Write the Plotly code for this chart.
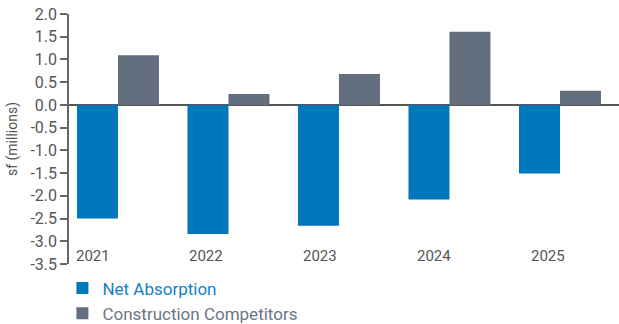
import plotly.graph_objects as go

# Data (millions of square feet)
years = ["2021", "2022", "2023", "2024", "2025"]
net_absorption = [-2.50, -2.84, -2.66, -2.08, -1.51]
construction_competitors = [1.09, 0.24, 0.68, 1.61, 0.31]

y_ticks = [2.0, 1.5, 1.0, 0.5, 0.0, -0.5, -1.0, -1.5, -2.0, -2.5, -3.0, -3.5]

BLUE = "#0077BB"
GRAY = "#636E7E"
TEXT = "#555555"
FONT = "Roboto, Arial, sans-serif"

x_pos = list(range(len(years)))

fig = go.Figure()
fig.add_trace(go.Bar(
    x=x_pos, y=net_absorption,
    name="<span style='color:#1580C4'>Net Absorption</span>",
    marker=dict(color=BLUE, line=dict(width=0)),
))
fig.add_trace(go.Bar(
    x=x_pos, y=construction_competitors,
    name="<span style='color:#6B7585'>Construction Competitors</span>",
    marker=dict(color=GRAY, line=dict(width=0)),
))

# Year labels sit inside the plot, just above the bottom of the value range
label_shift = -0.23
label_step = 1.03
for i, yr in enumerate(years):
    fig.add_annotation(
        x=label_shift + i * label_step, y=-3.33, xref="x", yref="y",
        text=yr, showarrow=False,
        font=dict(family=FONT, size=15, color=TEXT),
        xanchor="center", yanchor="middle",
    )

fig.update_layout(
    width=619, height=324,
    margin=dict(l=69, r=0, t=14, b=60, autoexpand=False),
    paper_bgcolor="white", plot_bgcolor="white",
    barmode="group", bargap=0.258, bargroupgap=0,
    font=dict(family=FONT, color=TEXT),
    showlegend=True,
    legend=dict(
        x=-0.012, y=0.165, xanchor="left", yanchor="top", yref="container",
        orientation="v", font=dict(family=FONT, size=17),
        traceorder="normal", bgcolor="rgba(0,0,0,0)",
        itemclick=False, itemdoubleclick=False,
    ),
    xaxis=dict(
        range=[-0.443, 4.534], showticklabels=False, showgrid=False,
        zeroline=False, showline=False, ticks="",
    ),
    yaxis=dict(
        range=[-3.5, 2.0], tickvals=y_ticks,
        ticktext=[f"{v:.1f}" for v in y_ticks],
        tickfont=dict(family=FONT, size=16, color=TEXT),
        showgrid=False,
        zeroline=True, zerolinecolor="#555555", zerolinewidth=1.5,
        showline=True, linecolor="#666666", linewidth=1.5,
        ticks="outside", ticklen=7, tickcolor="#666666", tickwidth=1.5,
        title=dict(text="sf (millions)", font=dict(family=FONT, size=14, color=TEXT), standoff=10),
    ),
)

fig.write_html("out.html")
